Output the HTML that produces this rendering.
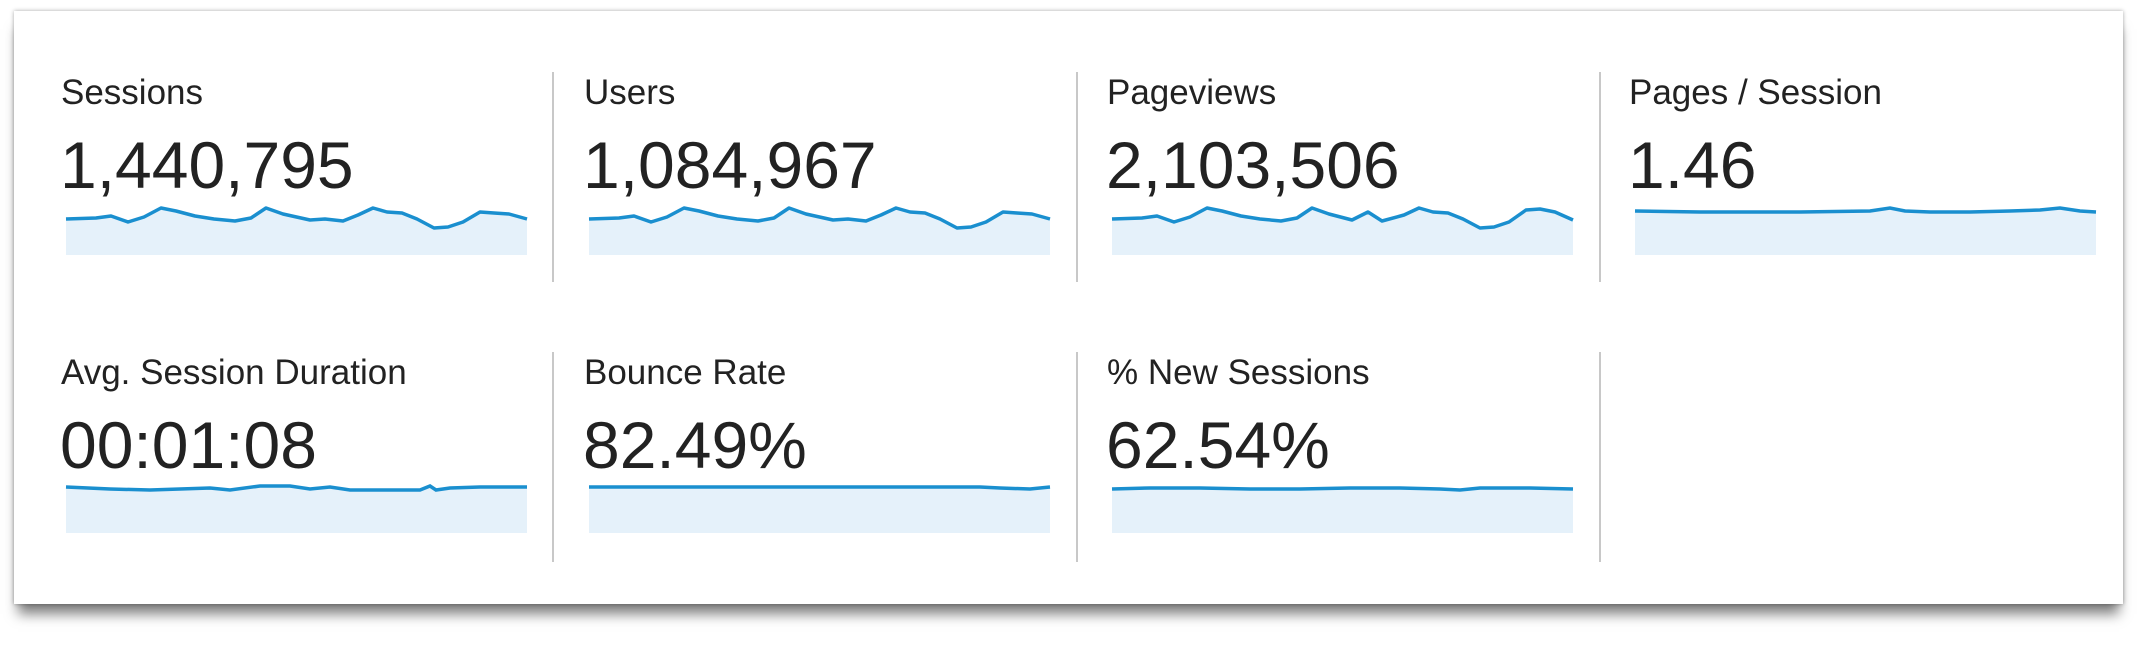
<!DOCTYPE html>
<html><head><meta charset="utf-8"><style>
html,body{margin:0;padding:0;background:#fff;width:2148px;height:648px;overflow:hidden}
.card{position:absolute;left:14px;top:11px;width:2109px;height:593px;background:#fff;box-shadow:0 14px 12px -4px rgba(0,0,0,.5),0 0 4px rgba(0,0,0,.35)}
svg{position:absolute;left:0;top:0}
text{font-family:"Liberation Sans",Arial,sans-serif;fill:#222}
.l{font-size:35px}.n{font-size:66px}
</style></head><body>
<div class="card"></div>
<svg width="2148" height="648" viewBox="0 0 2148 648">
<defs>
<g id="s1"><path d="M0,219 L30,218 45,216 62,222 78,217 95,208 110,211 129,216 148,219 169,221 185,218 200,208 217,214 244,220 259,219 277,221 292,215 307,208 321,212 336,213 351,219 368,228 382,227 397,222 414,212 428,213 443,214 461,219 L461,255 L0,255Z" fill="#e5f1fa"/><path d="M0,219 L30,218 45,216 62,222 78,217 95,208 110,211 129,216 148,219 169,221 185,218 200,208 217,214 244,220 259,219 277,221 292,215 307,208 321,212 336,213 351,219 368,228 382,227 397,222 414,212 428,213 443,214 461,219" fill="none" stroke="#1a8fcf" stroke-width="3.5" stroke-linejoin="round"/></g>
<g id="s3"><path d="M0,219 L30,218 45,216 62,222 78,217 95,208 110,211 129,216 148,219 169,221 185,218 200,208 217,214 240,220 256,212 270,221 292,215 307,208 321,212 336,213 351,219 368,228 382,227 397,222 414,210 428,209 443,212 461,220 L461,255 L0,255Z" fill="#e5f1fa"/><path d="M0,219 L30,218 45,216 62,222 78,217 95,208 110,211 129,216 148,219 169,221 185,218 200,208 217,214 240,220 256,212 270,221 292,215 307,208 321,212 336,213 351,219 368,228 382,227 397,222 414,210 428,209 443,212 461,220" fill="none" stroke="#1a8fcf" stroke-width="3.5" stroke-linejoin="round"/></g>
</defs>
<g stroke="#c8c8c8" stroke-width="2"><line x1="553" y1="72" x2="553" y2="282"/><line x1="1077" y1="72" x2="1077" y2="282"/><line x1="1600" y1="72" x2="1600" y2="282"/><line x1="553" y1="352" x2="553" y2="562"/><line x1="1077" y1="352" x2="1077" y2="562"/><line x1="1600" y1="352" x2="1600" y2="562"/></g>
<text class="l" x="61" y="104">Sessions</text><text class="n" x="60" y="188">1,440,795</text>
<text class="l" x="584" y="104">Users</text><text class="n" x="583" y="188">1,084,967</text>
<text class="l" x="1107" y="104">Pageviews</text><text class="n" x="1106" y="188">2,103,506</text>
<text class="l" x="1629" y="104">Pages / Session</text><text class="n" x="1628" y="188">1.46</text>
<text class="l" x="61" y="384">Avg. Session Duration</text><text class="n" x="60" y="468">00:01:08</text>
<text class="l" x="584" y="384">Bounce Rate</text><text class="n" x="583" y="468">82.49%</text>
<text class="l" x="1107" y="384">% New Sessions</text><text class="n" x="1106" y="468">62.54%</text>
<use href="#s1" x="66" y="0"/>
<use href="#s1" x="589" y="0"/>
<use href="#s3" x="1112" y="0"/>
<path d="M1635,211 L1700,212 1800,212 1870,211 1890,208 1905,211 1930,212 1970,212 2010,211 2040,210 2060,208 2080,211 2096,212 L2096,255 L1635,255Z" fill="#e5f1fa"/>
<path d="M1635,211 L1700,212 1800,212 1870,211 1890,208 1905,211 1930,212 1970,212 2010,211 2040,210 2060,208 2080,211 2096,212" fill="none" stroke="#1a8fcf" stroke-width="3.5"/>
<path d="M66,487 L110,489 150,490 180,489 210,488 230,490 260,486 290,486 310,489 330,487 350,490 380,490 420,490 430,486 436,490 450,488 480,487 527,487 L527,533 L66,533Z" fill="#e5f1fa"/>
<path d="M66,487 L110,489 150,490 180,489 210,488 230,490 260,486 290,486 310,489 330,487 350,490 380,490 420,490 430,486 436,490 450,488 480,487 527,487" fill="none" stroke="#1a8fcf" stroke-width="3.5"/>
<path d="M589,487 L700,487 800,487 900,487 980,487 1000,488 1030,489 1050,487 L1050,533 L589,533Z" fill="#e5f1fa"/>
<path d="M589,487 L700,487 800,487 900,487 980,487 1000,488 1030,489 1050,487" fill="none" stroke="#1a8fcf" stroke-width="3.5"/>
<path d="M1112,489 L1150,488 1200,488 1250,489 1300,489 1350,488 1400,488 1440,489 1460,490 1480,488 1530,488 1573,489 L1573,533 L1112,533Z" fill="#e5f1fa"/>
<path d="M1112,489 L1150,488 1200,488 1250,489 1300,489 1350,488 1400,488 1440,489 1460,490 1480,488 1530,488 1573,489" fill="none" stroke="#1a8fcf" stroke-width="3.5"/>
</svg>
</body></html>
